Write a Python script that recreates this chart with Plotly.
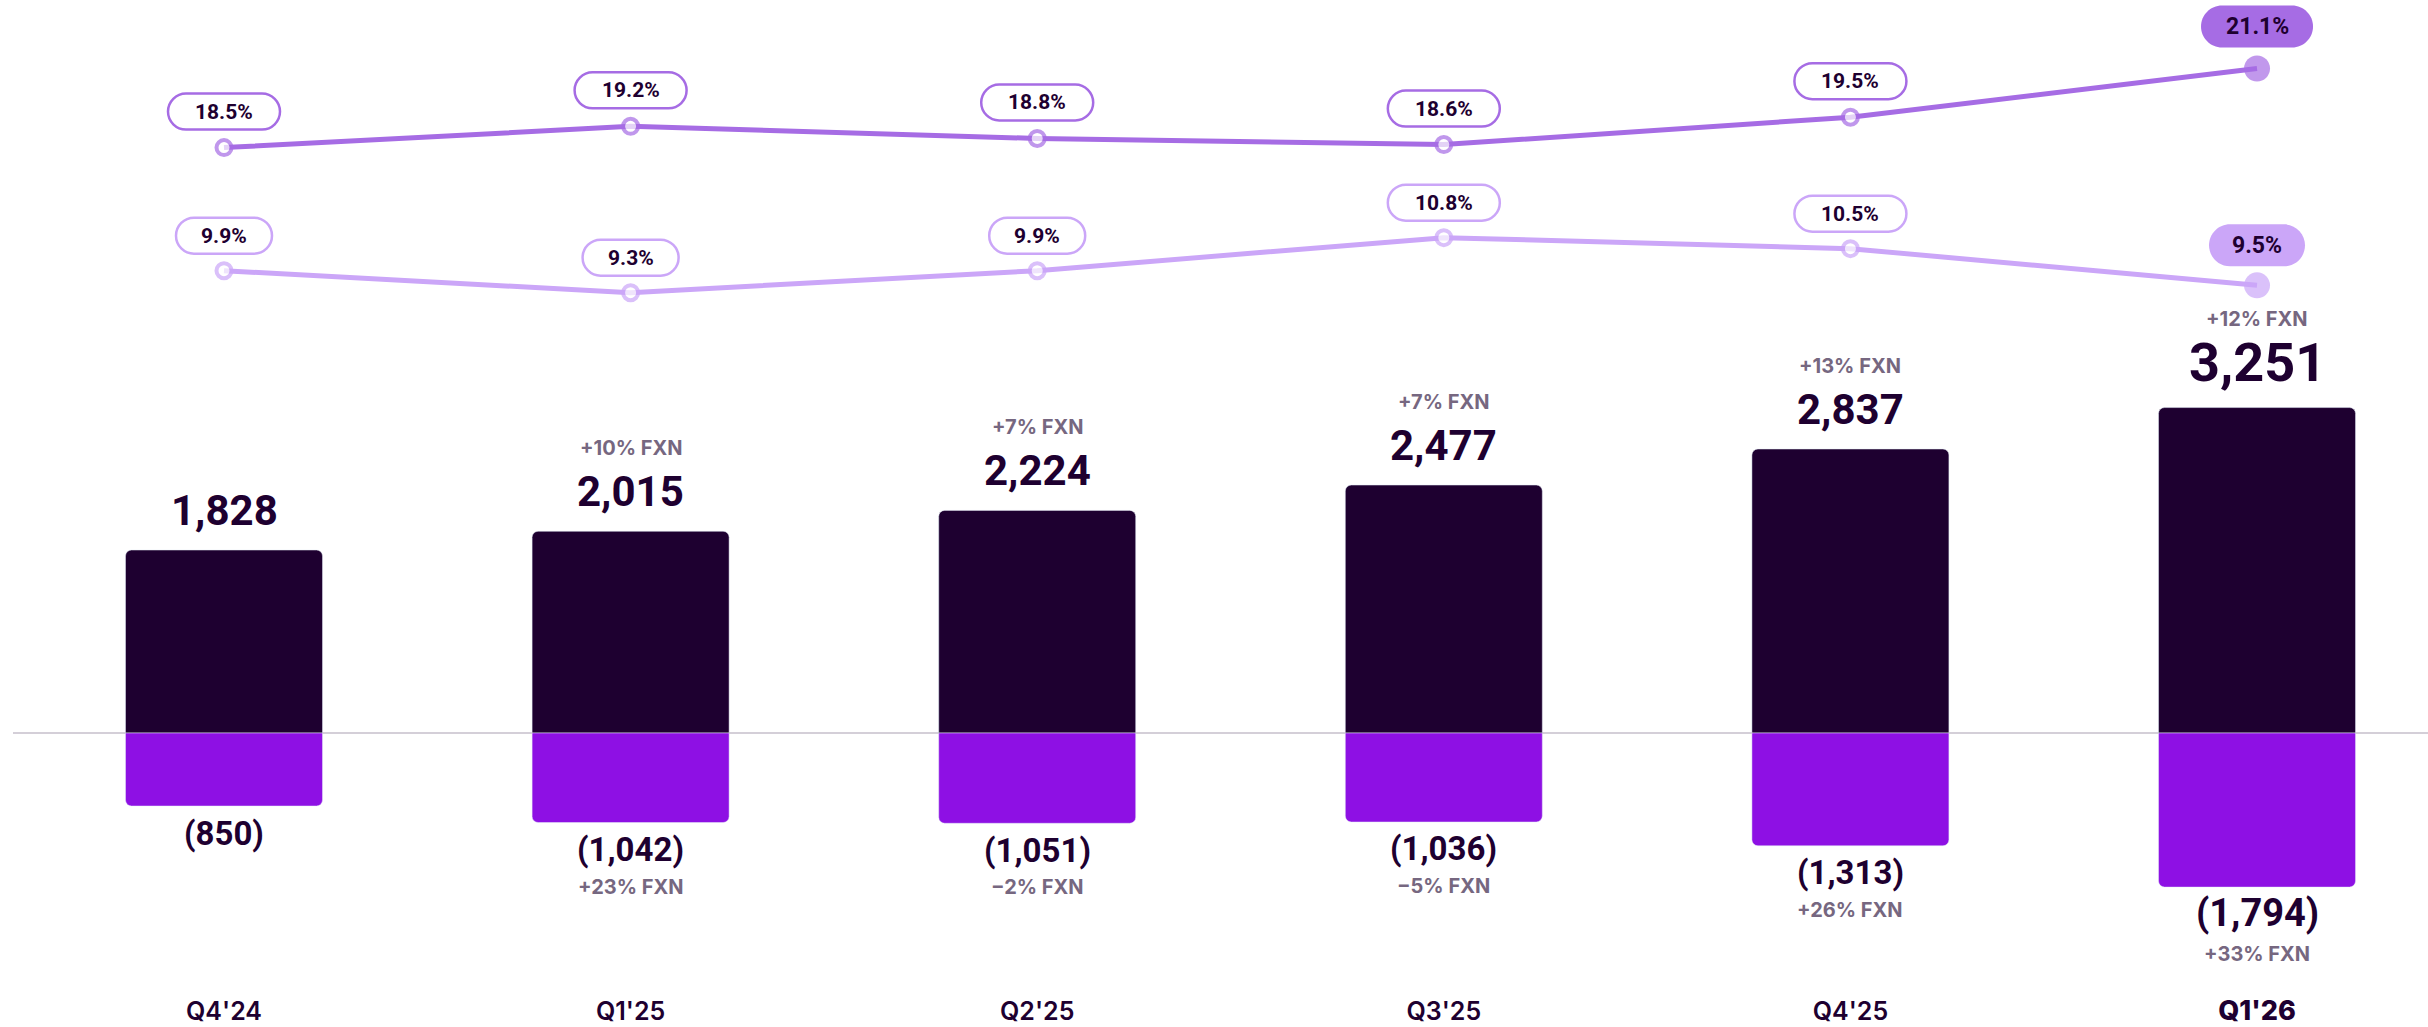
import plotly.graph_objects as go

# ---------------- data ----------------
categories = ["Q4'24", "Q1'25", "Q2'25", "Q3'25", "Q4'25", "Q1'26"]
revenue = [1828, 2015, 2224, 2477, 2837, 3251]
revenue_fxn = ["", "+10% FXN", "+7% FXN", "+7% FXN", "+13% FXN", "+12% FXN"]
costs = [850, 1042, 1051, 1036, 1313, 1794]
costs_fxn = ["", "+23% FXN", "\u22122% FXN", "\u22125% FXN", "+26% FXN", "+33% FXN"]
margin_top = [18.5, 19.2, 18.8, 18.6, 19.5, 21.1]
margin_low = [9.9, 9.3, 9.9, 10.8, 10.5, 9.5]

# ---------------- style ----------------
W, H = 2428, 1027
FONT = "Inter"
NUMFONT = "Roboto"
DARK = "#1E0030"
NEG = "#8E10E4"
GREY = "#766780"
L1 = "#A66CE4"
L2 = "#CBA6F8"
BASE = "#D4CFD8"

x = list(range(len(categories)))
last = len(categories) - 1

fig = go.Figure()

fig.add_trace(go.Bar(
    x=x, y=revenue, yaxis="y", marker=dict(color=DARK, cornerradius=6),
    width=0.4845, hoverinfo="skip"))
fig.add_trace(go.Bar(
    x=x, y=[-c for c in costs], yaxis="y2", marker=dict(color=NEG, cornerradius=6),
    width=0.4845, hoverinfo="skip"))


def line_trace(vals, color, axis):
    n = len(vals)
    return go.Scatter(
        x=x, y=vals, yaxis=axis, mode="lines+markers",
        line=dict(color=color, width=5),
        marker=dict(size=[15] * (n - 1) + [26],
                    color=["white"] * (n - 1) + [color],
                    line=dict(color=color, width=[4] * (n - 1) + [0])),
        hoverinfo="skip", cliponaxis=False)


fig.add_trace(line_trace(margin_top, L1, "y3"))
fig.add_trace(line_trace(margin_low, L2, "y4"))

# ---------------- annotations ----------------
ann = []
shapes = []

for i in x:
    big = i == last
    ann.append(dict(x=i, y=revenue[i], xref="x", yref="y", yanchor="middle",
                    yshift=45 if big else 40, showarrow=False,
                    text=f"{revenue[i]:,}",
                    font=dict(family=NUMFONT, size=54 if big else 42, color=DARK, weight=700)))
    if revenue_fxn[i]:
        ann.append(dict(x=i, y=revenue[i], xref="x", yref="y", yanchor="middle",
                        yshift=89 if big else 83, showarrow=False, text=revenue_fxn[i],
                        font=dict(family=FONT, size=20, color=GREY, weight=700)))
    ann.append(dict(x=i, y=-costs[i], xref="x", yref="y2", yanchor="middle",
                    yshift=-26 if big else -27, showarrow=False,
                    text=f"({costs[i]:,})",
                    font=dict(family=NUMFONT, size=38 if big else 33, color=DARK, weight=700)))
    if costs_fxn[i]:
        ann.append(dict(x=i, y=-costs[i], xref="x", yref="y2", yanchor="middle",
                        yshift=-67 if big else -64, showarrow=False, text=costs_fxn[i],
                        font=dict(family=FONT, size=20, color=GREY, weight=700)))


def pill_path(w, h, cy):
    r = h / 2.0
    k = 0.5523 * r
    xl, xr = -w / 2 + r, w / 2 - r
    top, bot = cy + r, cy - r
    hw = w / 2
    return (f"M{xl:.1f},{top:.1f} L{xr:.1f},{top:.1f} "
            f"C{xr + k:.1f},{top:.1f} {hw:.1f},{cy + k:.1f} {hw:.1f},{cy:.1f} "
            f"C{hw:.1f},{cy - k:.1f} {xr + k:.1f},{bot:.1f} {xr:.1f},{bot:.1f} "
            f"L{xl:.1f},{bot:.1f} "
            f"C{xl - k:.1f},{bot:.1f} {-hw:.1f},{cy - k:.1f} {-hw:.1f},{cy:.1f} "
            f"C{-hw:.1f},{cy + k:.1f} {xl - k:.1f},{top:.1f} {xl:.1f},{top:.1f} Z")


for vals, color, axis, off_n, off_l in ((margin_top, L1, "y3", 36, 42), (margin_low, L2, "y4", 35, 40)):
    for i in x:
        big = i == last
        label = f"{vals[i]:.1f}%"
        w = 16 * len(label) + 32
        h = 42 if big else 36
        cy = off_l if big else off_n
        shapes.append(dict(type="path", xref="x", yref=axis, xsizemode="pixel", ysizemode="pixel",
                           xanchor=i, yanchor=vals[i], path=pill_path(w, h, cy),
                           fillcolor=color if big else "white",
                           line=dict(color=color, width=0 if big else 2.5), layer="above"))
        ann.append(dict(x=i, y=vals[i], xref="x", yref=axis, yanchor="middle", yshift=cy,
                        showarrow=False, text=label,
                        font=dict(family=NUMFONT, size=23 if big else 21, color=DARK,
                                  weight=700)))

shapes.append(dict(type="line", xref="paper", yref="y", x0=13 / W, x1=1, y0=0, y1=0,
                   line=dict(color=BASE, width=2), layer="below"))

ticktext = [c if i != last else f"<span style='font-size:27px;font-weight:800'>{c}</span>"
            for i, c in enumerate(categories)]

B = 33
PH = H - B
zero_px = 733

fig.update_layout(
    width=W, height=H, margin=dict(l=0, r=0, t=0, b=B, pad=0),
    paper_bgcolor="white", plot_bgcolor="white", showlegend=False,
    barmode="overlay", annotations=ann, shapes=shapes,
    font=dict(family=FONT, color=DARK),
    xaxis=dict(range=[-0.5509, 5.4205], tickvals=x, ticktext=ticktext, showgrid=False,
               zeroline=False, showline=False, ticks="", fixedrange=True,
               tickfont=dict(family=FONT, size=25, color=DARK, weight=600)),
    yaxis=dict(range=[-(PH - zero_px) / 0.1001, zero_px / 0.1001], visible=False, fixedrange=True),
    yaxis2=dict(range=[-(PH - zero_px) / 0.0859, zero_px / 0.0859], visible=False,
                overlaying="y", fixedrange=True),
    yaxis3=dict(range=[(710 - PH) / 30.4, 710 / 30.4], visible=False, overlaying="y", fixedrange=True),
    yaxis4=dict(range=[(634 - PH) / 36.7, 634 / 36.7], visible=False, overlaying="y", fixedrange=True),
)

fig.write_html("out.html", config={"displayModeBar": False},
               post_script="document.body.style.margin='0';")
